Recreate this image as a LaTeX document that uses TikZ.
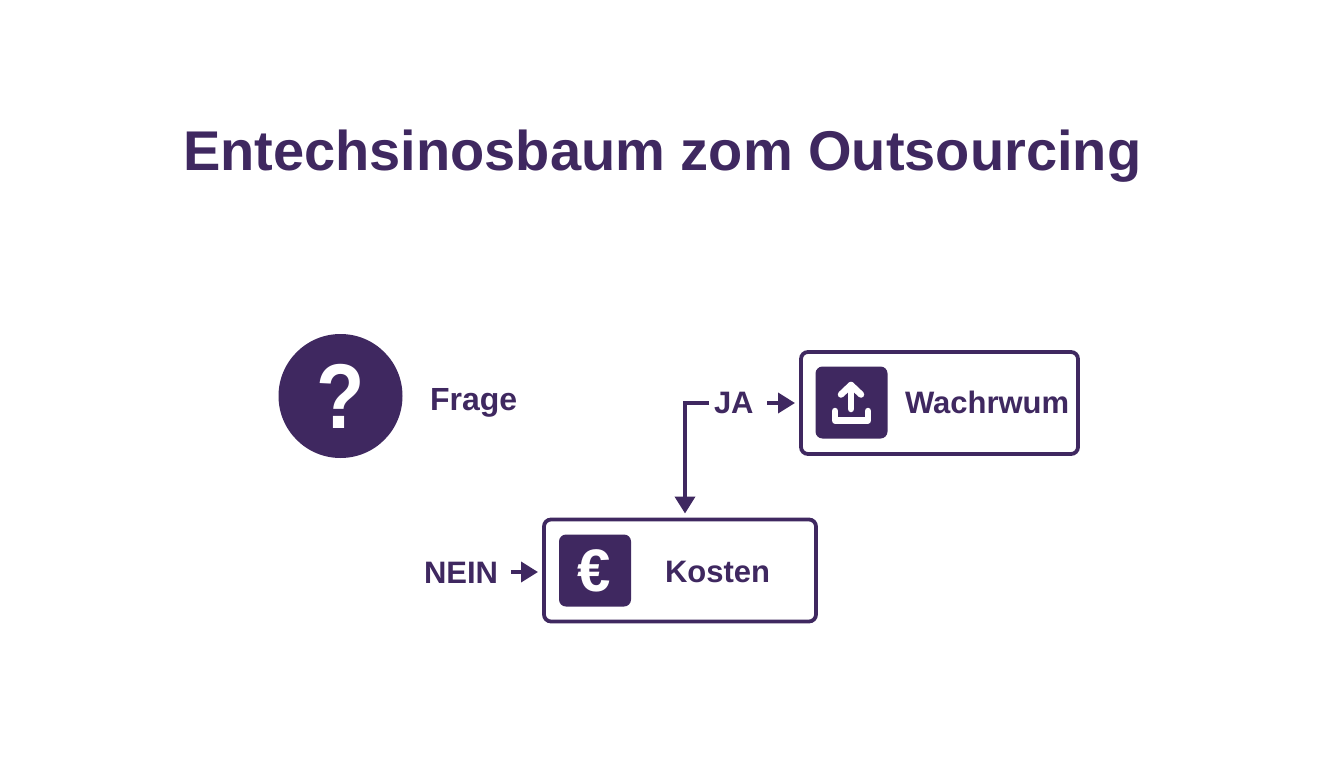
\documentclass[tikz,border=0pt]{standalone}
\usepackage{fontspec}
\setmainfont{Liberation Sans}
\usetikzlibrary{arrows.meta}
\definecolor{ink}{HTML}{3F2860}
\tikzset{
  x=1pt,y=-1pt,
  lab/.style={anchor=base west,inner sep=0pt,outer sep=0pt,text=ink,font=\fontsize{31}{31}\selectfont\bfseries},
  titlelab/.style={anchor=base west,inner sep=0pt,outer sep=0pt,text=ink,font=\fontsize{56}{56}\selectfont\bfseries},
  framebox/.style={draw=ink,line width=3.8pt,rounded corners=7pt,fill=white,outer sep=0pt,inner sep=0pt,minimum width=#1,minimum height=102pt},
  iconbox/.style={fill=ink,rounded corners=7pt,outer sep=0pt,inner sep=0pt,minimum width=72pt,minimum height=72pt},
  glyph/.style={text=white,inner sep=0pt,outer sep=0pt},
  conn/.style={draw=ink,line width=3.8pt,-{Triangle[length=17pt,width=20pt]}},
  iconline/.style={draw=white,line width=6.5pt,line cap=round,line join=round}
}
\begin{document}
\begin{tikzpicture}
\useasboundingbox (0,0) rectangle (1344,768);
\fill[white] (0,0) rectangle (1344,768);
\node[titlelab] (title) at (183,170) {Entechsinosbaum zom Outsourcing};

% question
\node[circle,fill=ink,minimum size=124pt,inner sep=0pt,outer sep=0pt] (q) at (340.5,396) {};
\node[glyph,font=\fontsize{92}{92}\selectfont\bfseries,xscale=0.86] (qm) at (340.5,396) {?};
\node[lab,font=\fontsize{32}{32}\selectfont\bfseries] (frage) at (430,410) {Frage};

% upper box
\node[framebox=277pt] (wbox) at (939.5,403) {};
\node[iconbox] (wicon) at (851.5,402.5) {};
\node[lab] (wtext) at (905,413) {Wachrwum};
\coordinate (t1) at (835,411);
\coordinate (t2) at (835,420.5);
\coordinate (t3) at (868,420.5);
\coordinate (t4) at (868,411);
\coordinate (s1) at (851,409);
\coordinate (s2) at (851,385);
\coordinate (h1) at (841,394.5);
\coordinate (h2) at (861,394.5);
\draw[iconline] (t1) -- (t2) -- (t3) -- (t4);
\draw[iconline] (s1) -- (s2);
\draw[iconline] (h1) -- (s2) -- (h2);

% lower box
\node[framebox=272pt] (kbox) at (680,570.5) {};
\node[iconbox] (kicon) at (595,570.5) {};
\node[glyph,font=\fontsize{60}{60}\selectfont\bfseries] (euro) at (594,570.5) {€};
\node[lab] (ktext) at (665,582) {Kosten};

% labels
\node[lab] (ja) at (714,413) {JA};
\node[lab] (nein) at (424,583) {NEIN};

% connectors
\coordinate (jaout) at (767,403);
\coordinate (jatip) at (795,403);
\coordinate (neinout) at (511,572);
\coordinate (neintip) at (538,572);
\coordinate (jaback) at (709,403);
\coordinate (corner) at (685,403);
\coordinate (kin) at (685,513.5);
\draw[conn] (jaout) -- (jatip);
\draw[conn] (neinout) -- (neintip);
\draw[conn] (jaback) -- (corner) -- (kin);
\end{tikzpicture}
\end{document}
